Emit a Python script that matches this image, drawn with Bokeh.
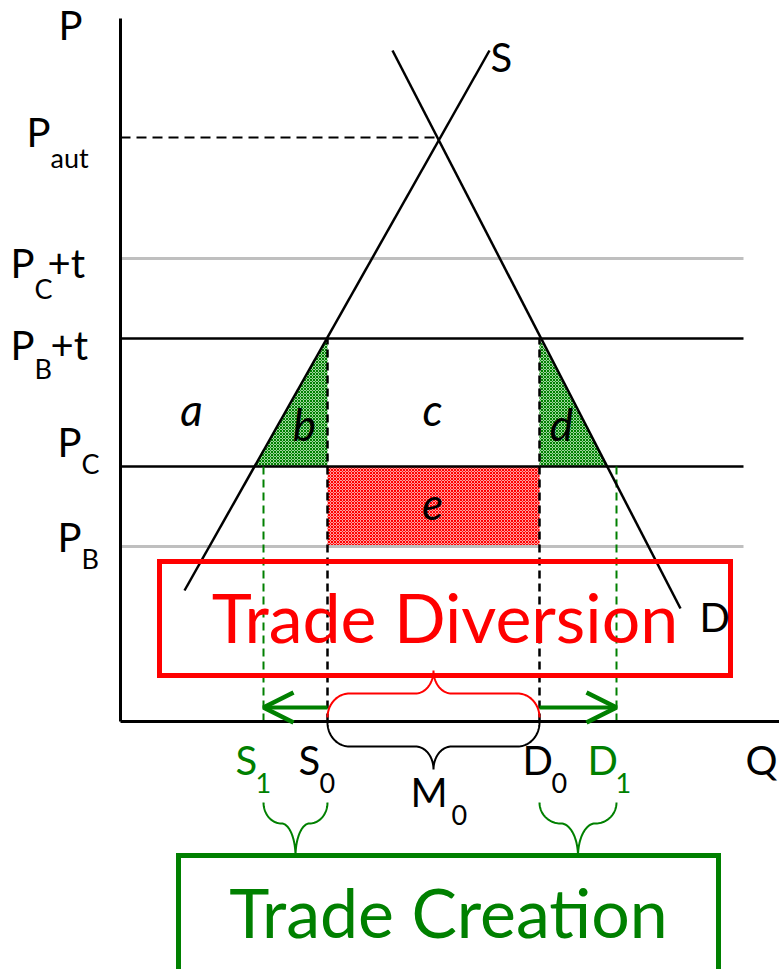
import numpy as np
from bokeh.plotting import figure
from bokeh.models import Range1d, Arrow, OpenHead
from bokeh.core.properties import value
from bokeh.embed import file_html
from bokeh.resources import INLINE

# ---------------- data (price / quantity units) ----------------
price_levels = [58.4, 46.3, 38.3, 25.5, 17.5]          # P_aut, P_C+t, P_B+t, P_C, P_B
P_aut, P_C_t, P_B_t, P_C, P_B = price_levels
supply_q = [6.4, 36.9]
supply_p = [13.1, 67.1]
demand_q = [27.2, 56.0]
demand_p = [67.1, 11.3]
Q_aut = 31.7
quantities = [14.3, 20.7, 41.9, 49.6]                  # S1, S0, D0, D1
S1, S0, D0, D1 = quantities
axis_p_top = 70.3
axis_q_end = 67.0
line_q_end = 62.3

# ---------------- layout / style ----------------
U = 10.0                      # pixels per data unit
FONT = "Lato"
BASE_SHIFT = 0.38             # svg baseline correction (fraction of font size)
GREEN = "#008000"
RED = "#ff0000"
GRAY = "#bfbfbf"
red_box = dict(left=3.9, right=61.0, top=16.0, bottom=4.6)
green_box = dict(left=5.8, right=59.8, top=-13.4, bottom=-27.0)

p = figure(width=779, height=969, output_backend="svg", toolbar_location=None,
           x_range=Range1d(-12.0, 65.9), y_range=Range1d(-24.8, 72.1),
           x_axis_type=None, y_axis_type=None, min_border=0)
p.grid.visible = False
p.outline_line_color = None
p.background_fill_color = "white"
p.border_fill_color = "white"


def txt(x, y, s, size, color="black", dx=0, dy=0, align="left", style="normal"):
    dy = dy - BASE_SHIFT * size
    p.text(x=[x + dx / U], y=[y - dy / U], text=[s], text_font=value(FONT),
           text_font_size=f"{size}px", text_color=color, text_align=align,
           text_baseline="alphabetic", text_font_style=style)


# supply / demand quantities at P_C (where the curves cross the P_C line)
q_sup_PC = float(np.interp(P_C, np.array(supply_p), np.array(supply_q)))
q_dem_PC = float(np.interp(P_C, np.array(demand_p)[::-1], np.array(demand_q)[::-1]))

# ---------------- shaded areas ----------------
p.patch([S0, S0, q_sup_PC], [P_B_t, P_C, P_C], fill_color="#9ed69e", line_color=None,
        hatch_pattern="x", hatch_color=GREEN, hatch_scale=3, hatch_weight=1)
p.patch([D0, D0, q_dem_PC], [P_B_t, P_C, P_C], fill_color="#9ed69e", line_color=None,
        hatch_pattern="x", hatch_color=GREEN, hatch_scale=3, hatch_weight=1)
p.quad(left=[S0], right=[D0], top=[P_C], bottom=[P_B], fill_color="#ffa0a0", line_color=None,
       hatch_pattern="x", hatch_color=RED, hatch_scale=3, hatch_weight=1)

# ---------------- price lines ----------------
p.line([0, line_q_end], [P_C_t, P_C_t], line_color=GRAY, line_width=3)
p.line([0, line_q_end], [P_B, P_B], line_color=GRAY, line_width=3)
p.line([0, line_q_end], [P_B_t, P_B_t], line_color="black", line_width=2.5)
p.line([0, line_q_end], [P_C, P_C], line_color="black", line_width=2.5)
p.line([0, Q_aut], [P_aut, P_aut], line_color="black", line_width=2, line_dash="10 6")

# ---------------- dashed quantity lines ----------------
for q in (S0, D0):
    p.line([q, q], [0, P_B_t], line_color="black", line_width=2.5, line_dash="8 5")
for q in (S1, D1):
    p.line([q, q], [0, P_C], line_color=GREEN, line_width=2, line_dash="8 5")

# ---------------- supply & demand ----------------
p.line(supply_q, supply_p, line_color="black", line_width=2.5)
p.line(demand_q, demand_p, line_color="black", line_width=2.5)

# ---------------- axes ----------------
p.line([0, 0], [0, axis_p_top], line_color="black", line_width=3)
p.line([0, axis_q_end], [0, 0], line_color="black", line_width=3)


# ---------------- braces ----------------
def brace(x0, x1, y_end, d_end, d_tip, r_end, r_tip, s):
    t = np.linspace(0, np.pi / 2, 24)
    xc = (x0 + x1) / 2
    d_end, d_tip, r_end, r_tip = d_end / U, d_tip / U, r_end / U, r_tip / U
    y_mid = y_end + s * d_end
    lx1 = x0 + r_end * (1 - np.cos(t)); ly1 = y_end + s * d_end * np.sin(t)
    lx2 = xc - r_tip + r_tip * np.sin(t); ly2 = y_mid + s * d_tip * (1 - np.cos(t))
    lx = np.concatenate([lx1, lx2]); ly = np.concatenate([ly1, ly2])
    rx = (2 * xc - lx)[::-1]; ry = ly[::-1]
    return np.concatenate([lx, rx]), np.concatenate([ly, ry])


bx, by = brace(S0, D0, -0.1, 24, 23, 22, 18, -1)
p.line(bx, by, line_color="black", line_width=2)
bx, by = brace(S0, D0, 0.4, 24, 23, 22, 18, +1)
p.line(bx, by, line_color=RED, line_width=2)
bx, by = brace(S1, S0, -8.1, 21, 33, 18, 14, -1)
p.line(bx, by, line_color=GREEN, line_width=2)
bx, by = brace(D0, D1, -8.1, 21, 33, 21, 17, -1)
p.line(bx, by, line_color=GREEN, line_width=2)

# ---------------- arrows ----------------
arrow_y = 1.4
p.add_layout(Arrow(x_start=S0, y_start=arrow_y, x_end=S1, y_end=arrow_y, line_color=GREEN, line_width=4,
                   end=OpenHead(size=30, line_color=GREEN, line_width=4.5)))
p.add_layout(Arrow(x_start=D0, y_start=arrow_y, x_end=D1, y_end=arrow_y, line_color=GREEN, line_width=4,
                   end=OpenHead(size=30, line_color=GREEN, line_width=4.5)))

# ---------------- boxes ----------------
p.quad(fill_color=None, line_color=RED, line_width=5, line_join="miter", **{k: [v] for k, v in red_box.items()})
p.quad(fill_color=None, line_color=GREEN, line_width=5, line_join="miter", **{k: [v] for k, v in green_box.items()})

# ---------------- texts ----------------
M, SUB, IT, BIG = 40, 27, 44, 68
# price labels
txt(0, axis_p_top, "P", M, dx=-62, dy=22)
txt(0, P_aut, "P", M, dx=-94, dy=10); txt(0, P_aut, "aut", SUB, dx=-70, dy=30)
txt(0, P_C_t, "P", M, dx=-110, dy=20); txt(0, P_C_t, "C", SUB, dx=-86, dy=40); txt(0, P_C_t, "+t", M, dx=-73, dy=20)
txt(0, P_B_t, "P", M, dx=-110, dy=22); txt(0, P_B_t, "B", SUB, dx=-86, dy=40); txt(0, P_B_t, "+t", M, dx=-70, dy=22)
txt(0, P_C, "P", M, dx=-63, dy=-9); txt(0, P_C, "C", SUB, dx=-39, dy=7)
txt(0, P_B, "P", M, dx=-63, dy=6); txt(0, P_B, "B", SUB, dx=-39, dy=22)
# quantity labels
txt(S1, 0, "S", M, GREEN, dx=-28, dy=54); txt(S1, 0, "1", SUB, GREEN, dx=-8, dy=72)
txt(S0, 0, "S", M, dx=-29, dy=54); txt(S0, 0, "0", SUB, dx=-8, dy=72)
qc = (S0 + D0) / 2
txt(qc, 0, "M", M, dx=-23, dy=86); txt(qc, 0, "0", SUB, dx=18, dy=104)
txt(D0, 0, "D", M, dx=-17, dy=54); txt(D0, 0, "0", SUB, dx=12, dy=72)
txt(D1, 0, "D", M, GREEN, dx=-29, dy=54); txt(D1, 0, "1", SUB, GREEN, dx=-1, dy=72)
txt(line_q_end, 0, "Q", M, dx=2, dy=54)
# curve labels
txt(supply_q[1], supply_p[1], "S", M, dx=1, dy=22)
txt(demand_q[1], demand_p[1], "D", M, dx=19, dy=24)
# area labels
mid_up = (P_B_t + P_C) / 2
mid_lo = (P_C + P_B) / 2
txt(0, mid_up, "a", IT, dx=71, dy=23, align="center", style="italic")
txt(S0, mid_up, "b", IT, dx=-23, dy=38, align="center", style="italic")
txt(qc, mid_up, "c", IT, dx=-1, dy=23, align="center", style="italic")
txt(D0, mid_up, "d", IT, dx=22, dy=38, align="center", style="italic")
txt(qc, mid_lo, "e", IT, dx=-1, dy=14, align="center", style="italic")
# box labels
txt((red_box["left"] + red_box["right"]) / 2, 7.9, "Trade Diversion", BIG, RED, align="center")
txt((green_box["left"] + green_box["right"]) / 2, -21.6, "Trade Creation", BIG, GREEN, align="center")

open("out.html", "w").write(file_html(p, INLINE))
